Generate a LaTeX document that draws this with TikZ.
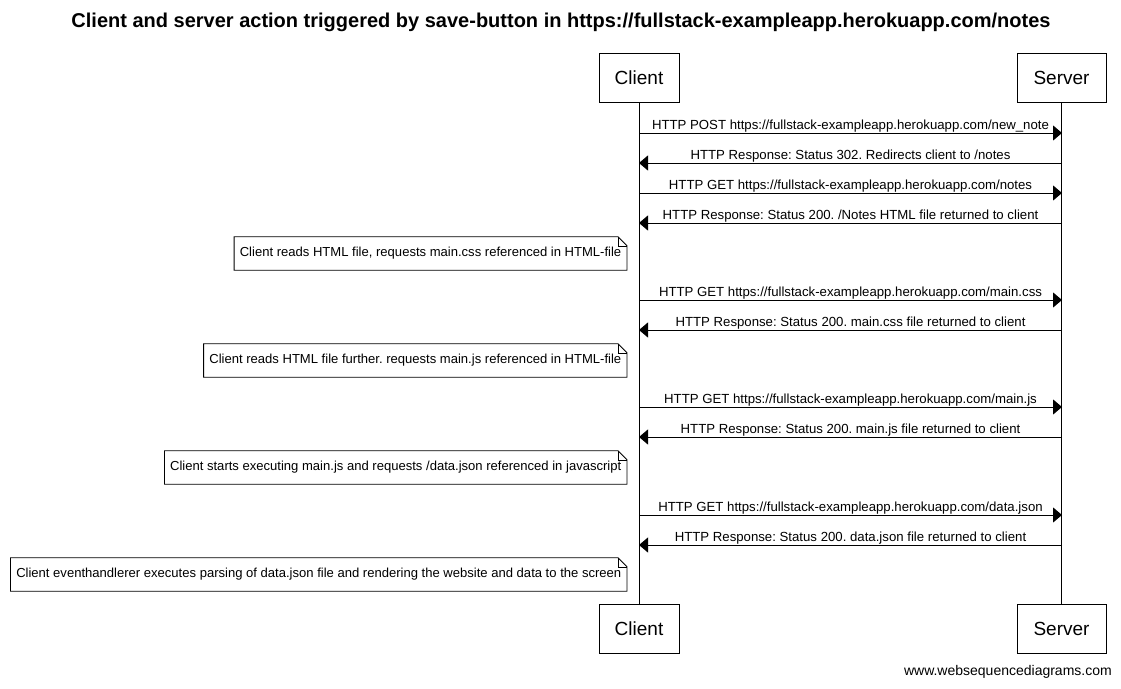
\documentclass[tikz,border=0pt]{standalone}
\usepackage{fontspec}
\setmainfont{Liberation Sans}
\usetikzlibrary{arrows.meta}
\frenchspacing
\tikzset{
  actor/.style={draw, line width=1pt, minimum width=#1, minimum height=49pt, inner sep=0pt, font=\fontsize{19}{21}\selectfont},
  msg/.style={line width=1pt, -{Triangle[length=9pt,width=15pt]}},
  lbl/.style={anchor=base, inner sep=0pt, font=\fontsize{13.2}{15}\selectfont, yshift=3.5pt},
  notetext/.style={anchor=east, inner xsep=5.5pt, inner ysep=0pt, minimum height=33pt, font=\fontsize{13.05}{15}\selectfont},
  lifeline/.style={line width=1pt},
}
\newcommand{\notebox}[1]{%
  \draw[line width=0.8pt] (#1.south west) -- (#1.north west) -- ([xshift=-9pt]#1.north east) -- ([yshift=-9pt]#1.north east) -- (#1.south east) -- cycle;
  \draw[line width=0.5pt] ([xshift=-9pt]#1.north east) -- ([xshift=-9pt,yshift=-9pt]#1.north east) -- ([yshift=-9pt]#1.north east);
}
\begin{document}
\begin{tikzpicture}[x=1pt,y=-1pt]
\useasboundingbox (0,0) rectangle (1121,688);
\node[font=\bfseries\fontsize{20}{22}\selectfont] (title) at (561,22) {Client and server action triggered by save-button in https://fullstack-exampleapp.herokuapp.com/notes};

\node[actor=80pt] (ct) at (639,77.5) {Client};
\node[actor=89pt] (st) at (1061.5,77.5) {Server};
\node[actor=80pt] (cb) at (639,628.5) {Client};
\node[actor=89pt] (sb) at (1061.5,628.5) {Server};

\draw[lifeline] (ct.south) -- (cb.north);
\draw[lifeline] (st.south) -- (sb.north);

\foreach \i/\y in {1/133,2/163,3/193,4/223,5/300,6/330,7/407,8/437,9/515,10/545}{
  \coordinate (c\i) at (639,\y);
  \coordinate (s\i) at (1062,\y);
}

\draw[msg] (c1) -- node[lbl]{HTTP POST https://fullstack-exampleapp.herokuapp.com/new\_note} (s1);
\draw[msg] (s2) -- node[lbl]{HTTP Response: Status 302. Redirects client to /notes} (c2);
\draw[msg] (c3) -- node[lbl]{HTTP GET https://fullstack-exampleapp.herokuapp.com/notes} (s3);
\draw[msg] (s4) -- node[lbl]{HTTP Response: Status 200. /Notes HTML file returned to client} (c4);
\draw[msg] (c5) -- node[lbl]{HTTP GET https://fullstack-exampleapp.herokuapp.com/main.css} (s5);
\draw[msg] (s6) -- node[lbl]{HTTP Response: Status 200. main.css file returned to client} (c6);
\draw[msg] (c7) -- node[lbl]{HTTP GET https://fullstack-exampleapp.herokuapp.com/main.js} (s7);
\draw[msg] (s8) -- node[lbl]{HTTP Response: Status 200. main.js file returned to client} (c8);
\draw[msg] (c9) -- node[lbl]{HTTP GET https://fullstack-exampleapp.herokuapp.com/data.json} (s9);
\draw[msg] (s10) -- node[lbl]{HTTP Response: Status 200. data.json file returned to client} (c10);

\node[notetext] (n1) at (627,253.5) {Client reads HTML file, requests main.css referenced in HTML-file};
\node[notetext] (n2) at (627,360.5) {Client reads HTML file further. requests main.js referenced in HTML-file};
\node[notetext] (n3) at (627,467.5) {Client starts executing main.js and requests /data.json referenced in javascript};
\node[notetext] (n4) at (627,574.5) {Client eventhandlerer executes parsing of data.json file and rendering the website and data to the screen};
\notebox{n1}
\notebox{n2}
\notebox{n3}
\notebox{n4}

\node[anchor=east, inner sep=0pt, font=\fontsize{14}{16}\selectfont] (footer) at (1112,672) {www.websequencediagrams.com};
\end{tikzpicture}
\end{document}
